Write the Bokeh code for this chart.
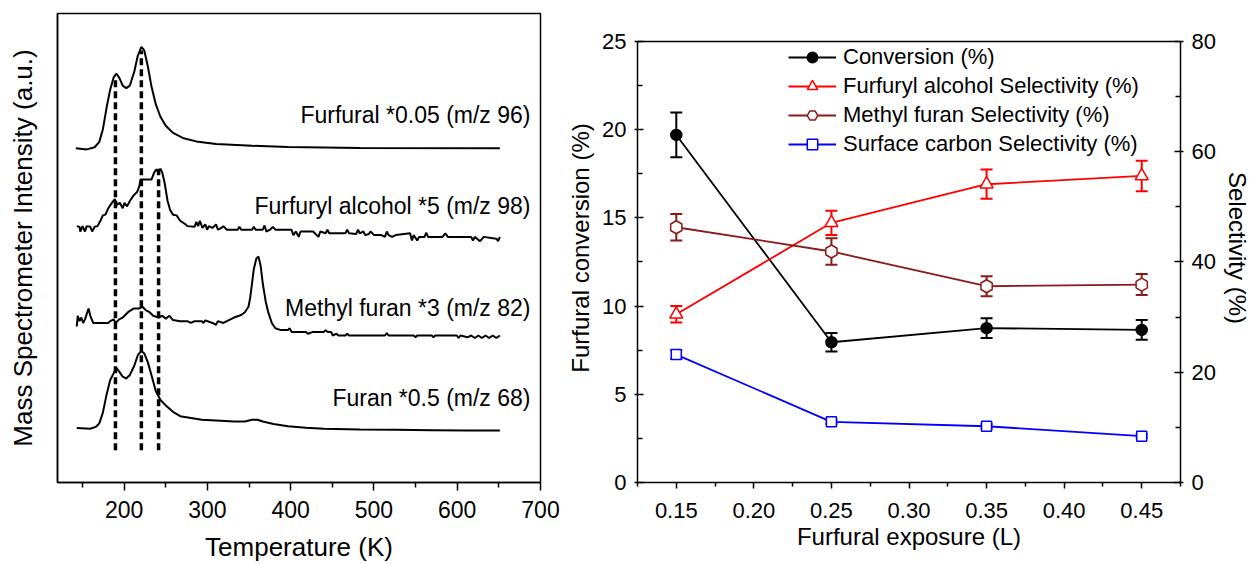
from bokeh.plotting import figure
from bokeh.layouts import row
from bokeh.models import (Range1d, LinearAxis, FixedTicker, Whisker, TeeHead, Span,
                          ColumnDataSource, Legend, LegendItem, Label)
from bokeh.embed import file_html
from bokeh.resources import INLINE

FONT = "Liberation Sans"

# ---------------- Left panel data (TPD traces, offset a.u.) ----------------
furfural_T = [142, 155, 164.6, 170.2, 174.5, 178.9, 183.2, 187.5, 190.5, 194.0, 198.3, 202.6,
              206.9, 212.1, 216.4, 220.7, 224.2, 228.5, 232.8, 238.0, 243.6, 250.0, 258.7,
              271.6, 288.9, 310.4, 353.6, 396.7, 483.0, 651.2]
furfural_I = [93.2, 92.9, 93.5, 95.0, 98.5, 104.5, 109.5, 113.0, 114.0, 113.0, 110.7, 110.0,
              110.7, 114.5, 119.0, 121.5, 120.5, 116.0, 110.5, 105.5, 102.0, 99.5, 97.5,
              96.0, 95.0, 94.4, 93.9, 93.6, 93.3, 93.2]

falc_T = [143.1, 146.5, 147.4, 150.0, 153.0, 155.1, 159.4, 161.6, 164.6, 168.1, 171.5, 174.5,
          177.6, 181.0, 185.3, 188.8, 191.8, 194.8, 198.3, 200.4, 203.5, 206.9, 211.2, 215.5,
          218.1, 219.8, 224.2, 232.8, 236.2, 238.4, 241.4, 243.6, 245.7, 248.7, 252.2, 255.2,
          258.7, 263.0, 267.3, 273.8, 275.9, 284.6, 286.7, 288.9, 291.0, 294.0, 297.5, 299.7,
          301.8, 306.1, 310.4, 312.6, 316.9, 319.1, 323.4, 336.3, 338.5, 340.6, 353.6, 355.7,
          357.9, 366.5, 368.7, 370.8, 375.2, 378.6, 381.6, 401.0, 403.2, 406.2, 409.7, 411.8,
          426.9, 433.4, 435.5, 442.0, 444.2, 446.3, 465.7, 467.9, 470.1, 478.7, 480.8, 483.0,
          487.3, 489.5, 493.8, 495.9, 500.3, 508.9, 513.2, 515.4, 517.5, 521.8, 526.1, 543.4,
          545.6, 547.7, 552.0, 554.2, 560.7, 562.8, 565.0, 582.3, 585.7, 588.7, 616.7, 618.9,
          621.1, 627.5, 631.8, 646.9, 649.1, 651.2]
falc_I = [71.5, 71.3, 70.0, 71.5, 70.0, 71.5, 71.3, 70.0, 71.3, 71.5, 73.0, 74.5,
          74.7, 76.5, 78.0, 79.0, 77.5, 78.0, 76.5, 78.0, 77.0, 78.5, 80.0, 81.0,
          82.5, 84.5, 84.5, 84.5, 86.5, 87.3, 86.5, 87.5, 86.5, 83.5, 78.5, 76.0,
          74.7, 74.5, 73.0, 72.0, 71.5, 71.3, 72.7, 71.5, 73.0, 71.0, 72.0, 70.5,
          71.5, 71.0, 72.0, 70.5, 71.0, 71.5, 70.5, 70.5, 71.3, 70.5, 70.5, 71.3,
          70.5, 70.5, 71.7, 70.0, 70.5, 71.3, 70.5, 70.5, 69.0, 70.0, 68.5, 70.0,
          70.0, 68.5, 70.0, 69.5, 70.5, 69.5, 69.5, 70.5, 69.5, 69.3, 70.5, 69.5,
          70.0, 69.0, 69.3, 70.0, 69.0, 69.0, 68.5, 70.0, 69.0, 68.5, 69.0, 69.5,
          67.5, 69.0, 67.5, 68.5, 68.5, 69.7, 68.5, 68.5, 69.5, 68.5, 68.5, 67.5,
          68.5, 67.3, 68.5, 68.0, 67.3, 68.5]

mfuran_T = [143.1, 144.3, 146.5, 148.7, 150.8, 153.0, 155.1, 157.3, 159.4, 162.9, 181.0, 183.2,
            187.5, 189.6, 194.0, 198.3, 200.4, 204.7, 211.2, 217.7, 222.0, 226.3, 230.6, 234.9,
            241.4, 245.7, 250.0, 254.4, 258.7, 267.3, 275.9, 280.2, 284.6, 293.2, 295.3, 297.5,
            306.1, 310.4, 312.6, 319.1, 323.4, 332.0, 340.6, 345.0, 349.3, 351.4, 353.6, 355.7,
            358.8, 361.3, 363.9, 366.5, 370.0, 373.0, 377.3, 381.6, 388.1, 396.7, 398.9, 401.0,
            418.3, 420.5, 426.9, 439.9, 442.0, 444.2, 448.5, 450.6, 455.0, 457.1, 465.7, 467.9,
            470.1, 513.2, 515.4, 517.5, 547.7, 549.9, 552.0, 569.3, 571.5, 573.6, 599.5, 601.7,
            603.9, 612.4, 616.7, 621.1, 625.4, 629.7, 634.0, 638.3, 642.6, 646.9, 651.2]
mfuran_I = [43.5, 46.5, 45.0, 46.0, 44.5, 45.5, 47.0, 48.5, 46.5, 44.5, 44.5, 45.0,
            45.5, 44.5, 45.5, 46.0, 46.5, 47.5, 48.5, 48.5, 49.0, 48.0, 47.5, 46.5,
            46.0, 46.5, 45.7, 46.5, 45.3, 45.0, 45.0, 44.5, 45.0, 45.0, 44.5, 45.2,
            44.5, 44.0, 45.0, 44.5, 45.0, 46.0, 46.7, 47.5, 49.0, 51.5, 55.5, 59.5,
            62.5, 63.0, 60.5, 55.5, 50.5, 47.5, 44.5, 43.0, 42.5, 42.5, 43.0, 42.0,
            42.0, 41.5, 42.0, 42.0, 42.5, 42.0, 42.0, 41.0, 41.5, 41.0, 41.0, 41.5,
            41.0, 41.0, 41.7, 41.0, 41.0, 40.5, 41.0, 41.0, 40.5, 41.0, 41.0, 40.3,
            41.0, 40.5, 41.0, 40.3, 41.0, 40.3, 41.0, 40.3, 41.0, 40.3, 41.0]

furan_T = [143.1, 159.4, 165.9, 170.2, 174.5, 178.9, 183.2, 187.5, 190.5, 194.0, 198.3, 202.6,
           206.9, 212.1, 216.4, 220.7, 224.2, 228.5, 232.8, 238.0, 243.6, 250.0, 258.7, 267.3,
           280.2, 293.2, 310.4, 332.0, 345.0, 353.6, 360.1, 366.5, 379.5, 396.7, 418.3, 439.9,
           483.0, 526.1, 569.3, 612.4, 651.2]
furan_I = [15.2, 15.0, 15.5, 16.5, 19.5, 24.5, 28.5, 30.5, 32.0, 31.0, 29.5, 29.0,
           30.0, 32.5, 35.5, 36.7, 36.0, 33.5, 30.0, 25.5, 23.0, 21.5, 19.7, 18.5,
           18.0, 17.5, 17.3, 17.0, 17.0, 17.5, 17.5, 17.0, 16.3, 15.7, 15.3, 15.0,
           14.8, 14.7, 14.6, 14.5, 14.5]

trace_labels = ["Furfural *0.05 (m/z 96)", "Furfuryl alcohol *5 (m/z 98)",
                "Methyl furan *3 (m/z 82)", "Furan *0.5 (m/z 68)"]
label_y = [102.5, 77.0, 48.7, 23.7]
label_T = 688

peak_T = [189.6, 220.7, 241.4]
peak_top = [112.5, 120.5, 87.5]
peak_bottom = [9, 9, 9]

temp_ticks = [200, 300, 400, 500, 600, 700]
temp_minor = [150, 250, 350, 450, 550, 650]

# ---------------- Right panel data ----------------
exposure = [0.15, 0.25, 0.35, 0.45]
conversion = [19.7, 7.95, 8.75, 8.65]
conversion_err = [1.27, 0.53, 0.56, 0.56]
fa_sel = [30.5, 47.1, 54.1, 55.6]
fa_err = [1.5, 2.2, 2.65, 2.75]
mf_sel = [46.3, 41.9, 35.6, 35.9]
mf_err = [2.4, 2.4, 1.8, 1.9]
sc_sel = [23.2, 11.0, 10.2, 8.4]
sc_err = [0.8, 0.4, 0.4, 0.3]

exp_ticks = [0.15, 0.20, 0.25, 0.30, 0.35, 0.40, 0.45]
exp_tick_labels = ["0.15", "0.20", "0.25", "0.30", "0.35", "0.40", "0.45"]
exp_minor = [0.125, 0.175, 0.225, 0.275, 0.325, 0.375, 0.425, 0.475]
conv_ticks = [0, 5, 10, 15, 20, 25]
conv_minor = [2.5, 7.5, 12.5, 17.5, 22.5]
sel_ticks = [0, 20, 40, 60, 80]
sel_minor = [10, 30, 50, 70]
conv_max = 25
sel_max = 80

series_names = ["Conversion (%)", "Furfuryl alcohol Selectivity (%)",
                "Methyl furan Selectivity (%)", "Surface carbon Selectivity (%)"]

# Layout geometry (pixels)
FRAME_TOP = 13      # shared frame top (Bokeh aligns frames in a row)
FRAME_BOTTOM = 483
RIGHT_TOP = 41      # visible top of right panel box
headroom = (FRAME_BOTTOM - FRAME_TOP) / (FRAME_BOTTOM - RIGHT_TOP)

# ================= Left figure =================
p1 = figure(width=560, height=564, x_range=Range1d(120, 700), y_range=Range1d(0, 130.8),
            output_backend="svg", toolbar_location=None, title=None,
            min_border_left=57, min_border_right=20, min_border_top=FRAME_TOP,
            min_border_bottom=564 - FRAME_BOTTOM)
p1.xgrid.visible = False
p1.ygrid.visible = False
p1.outline_line_color = "black"
p1.outline_line_width = 1.5
p1.background_fill_color = "white"
p1.border_fill_color = "white"

xa = p1.xaxis[0]
xa.ticker = FixedTicker(ticks=temp_ticks, minor_ticks=temp_minor)
xa.axis_label = "Temperature (K)"
xa.major_tick_out = 8
xa.major_tick_in = 0
xa.minor_tick_out = 5
xa.minor_tick_in = 0
xa.major_label_standoff = 10
xa.axis_label_standoff = 11

ya = p1.yaxis[0]
ya.ticker = FixedTicker(ticks=[], minor_ticks=[])
ya.axis_label = "Mass Spectrometer Intensity (a.u.)"
ya.major_tick_out = 0
ya.major_tick_in = 0
ya.minor_tick_out = 0
ya.minor_tick_in = 0
ya.major_label_standoff = 0
ya.axis_label_standoff = 20

for ax in (xa, ya):
    ax.axis_line_color = "black"
    ax.axis_line_width = 1.5
    ax.major_tick_line_color = "black"
    ax.minor_tick_line_color = "black"
    ax.major_tick_line_width = 1.5
    ax.minor_tick_line_width = 1.5
    ax.major_label_text_font = FONT
    ax.major_label_text_font_size = "23px"
    ax.major_label_text_color = "black"
    ax.axis_label_text_font = FONT
    ax.axis_label_text_font_size = "26px"
    ax.axis_label_text_font_style = "normal"
    ax.axis_label_text_color = "black"

for T, I in ((furfural_T, furfural_I), (falc_T, falc_I), (mfuran_T, mfuran_I), (furan_T, furan_I)):
    p1.line(T, I, line_color="black", line_width=2)

p1.segment(x0=peak_T, y0=peak_bottom, x1=peak_T, y1=peak_top, line_color="black",
           line_width=3.5, line_dash="7 4")

for txt, yv in zip(trace_labels, label_y):
    p1.add_layout(Label(x=label_T, y=yv, text=txt, text_align="right", text_baseline="middle",
                        text_font=FONT, text_font_size="23px", text_color="black"))

# ================= Right figure =================
p2 = figure(width=693, height=564, x_range=Range1d(0.125, 0.475),
            y_range=Range1d(0, conv_max * headroom),
            output_backend="svg", toolbar_location=None, title=None,
            min_border_left=77, min_border_right=73, min_border_top=FRAME_TOP,
            min_border_bottom=564 - FRAME_BOTTOM)
p2.extra_y_ranges = {"sel": Range1d(0, sel_max * headroom)}
p2.xgrid.visible = False
p2.ygrid.visible = False
p2.outline_line_alpha = 0
p2.add_layout(Span(location=conv_max, dimension="width", line_color="black", line_width=1.5))

ax_r = LinearAxis(y_range_name="sel", axis_label="Selectivity (%)")
p2.add_layout(ax_r, "right")

bx = p2.xaxis[0]
bx.ticker = FixedTicker(ticks=exp_ticks, minor_ticks=exp_minor)
bx.major_label_overrides = {t: s for t, s in zip(exp_ticks, exp_tick_labels)}
bx.axis_label = "Furfural exposure (L)"
bx.major_tick_out = 6
bx.major_tick_in = 0
bx.minor_tick_out = 4
bx.minor_tick_in = 0
bx.major_label_standoff = 14
bx.axis_label_standoff = 2

ly = p2.yaxis[0]
ly.ticker = FixedTicker(ticks=conv_ticks, minor_ticks=conv_minor)
ly.bounds = (0, conv_max)
ly.axis_label = "Furfural conversion (%)"
ax_r.ticker = FixedTicker(ticks=sel_ticks, minor_ticks=sel_minor)
ax_r.bounds = (0, sel_max)
for ax in (ly, ax_r):
    ax.major_tick_out = 3
    ax.major_tick_in = 6
    ax.minor_tick_out = 0
    ax.minor_tick_in = 5
    ax.major_label_standoff = 8
    ax.axis_label_standoff = 5

for ax in (bx, ly, ax_r):
    ax.axis_line_color = "black"
    ax.axis_line_width = 1.5
    ax.major_tick_line_color = "black"
    ax.minor_tick_line_color = "black"
    ax.major_tick_line_width = 1.5
    ax.minor_tick_line_width = 1.5
    ax.major_label_text_font = FONT
    ax.major_label_text_font_size = "22px"
    ax.major_label_text_color = "black"
    ax.axis_label_text_font = FONT
    ax.axis_label_text_font_size = "24px"
    ax.axis_label_text_font_style = "normal"
    ax.axis_label_text_color = "black"

BROWN = "#8b1a1a"
series = [
    (conversion, conversion_err, "black", "circle", "black", "default", 11),
    (fa_sel, fa_err, "#ff0000", "triangle", "white", "sel", 13),
    (mf_sel, mf_err, BROWN, "hex", "white", "sel", 13),
    (sc_sel, sc_err, "#0000ff", "square", "white", "sel", 10),
]
items = []
for (vals, errs, col, mk, fill, rng, sz), name in zip(series, series_names):
    src = ColumnDataSource(dict(x=exposure, y=vals,
                                upper=[v + e for v, e in zip(vals, errs)],
                                lower=[v - e for v, e in zip(vals, errs)]))
    w = Whisker(source=src, base="x", upper="upper", lower="lower", y_range_name=rng,
                line_color=col, line_width=2,
                upper_head=TeeHead(size=12, line_color=col, line_width=2),
                lower_head=TeeHead(size=12, line_color=col, line_width=2))
    p2.add_layout(w)
    ln = p2.line("x", "y", source=src, line_color=col, line_width=1.8, y_range_name=rng)
    kw = dict(angle=0.5236) if mk == "hex" else {}
    sc = p2.scatter("x", "y", source=src, marker=mk, size=sz, line_color=col, fill_color=fill,
                    line_width=1.5, y_range_name=rng, **kw)
    items.append(LegendItem(label=name, renderers=[ln, sc]))

legend = Legend(items=items, location=(151, 325), glyph_width=48, glyph_height=26,
                label_height=26, spacing=3, padding=0, margin=0, label_standoff=7,
                label_text_font=FONT, label_text_font_size="22px", label_text_color="black",
                border_line_alpha=0, background_fill_alpha=0)
p2.add_layout(legend)

layout = row(p1, p2)
open("out.html", "w").write(file_html(layout, INLINE))
